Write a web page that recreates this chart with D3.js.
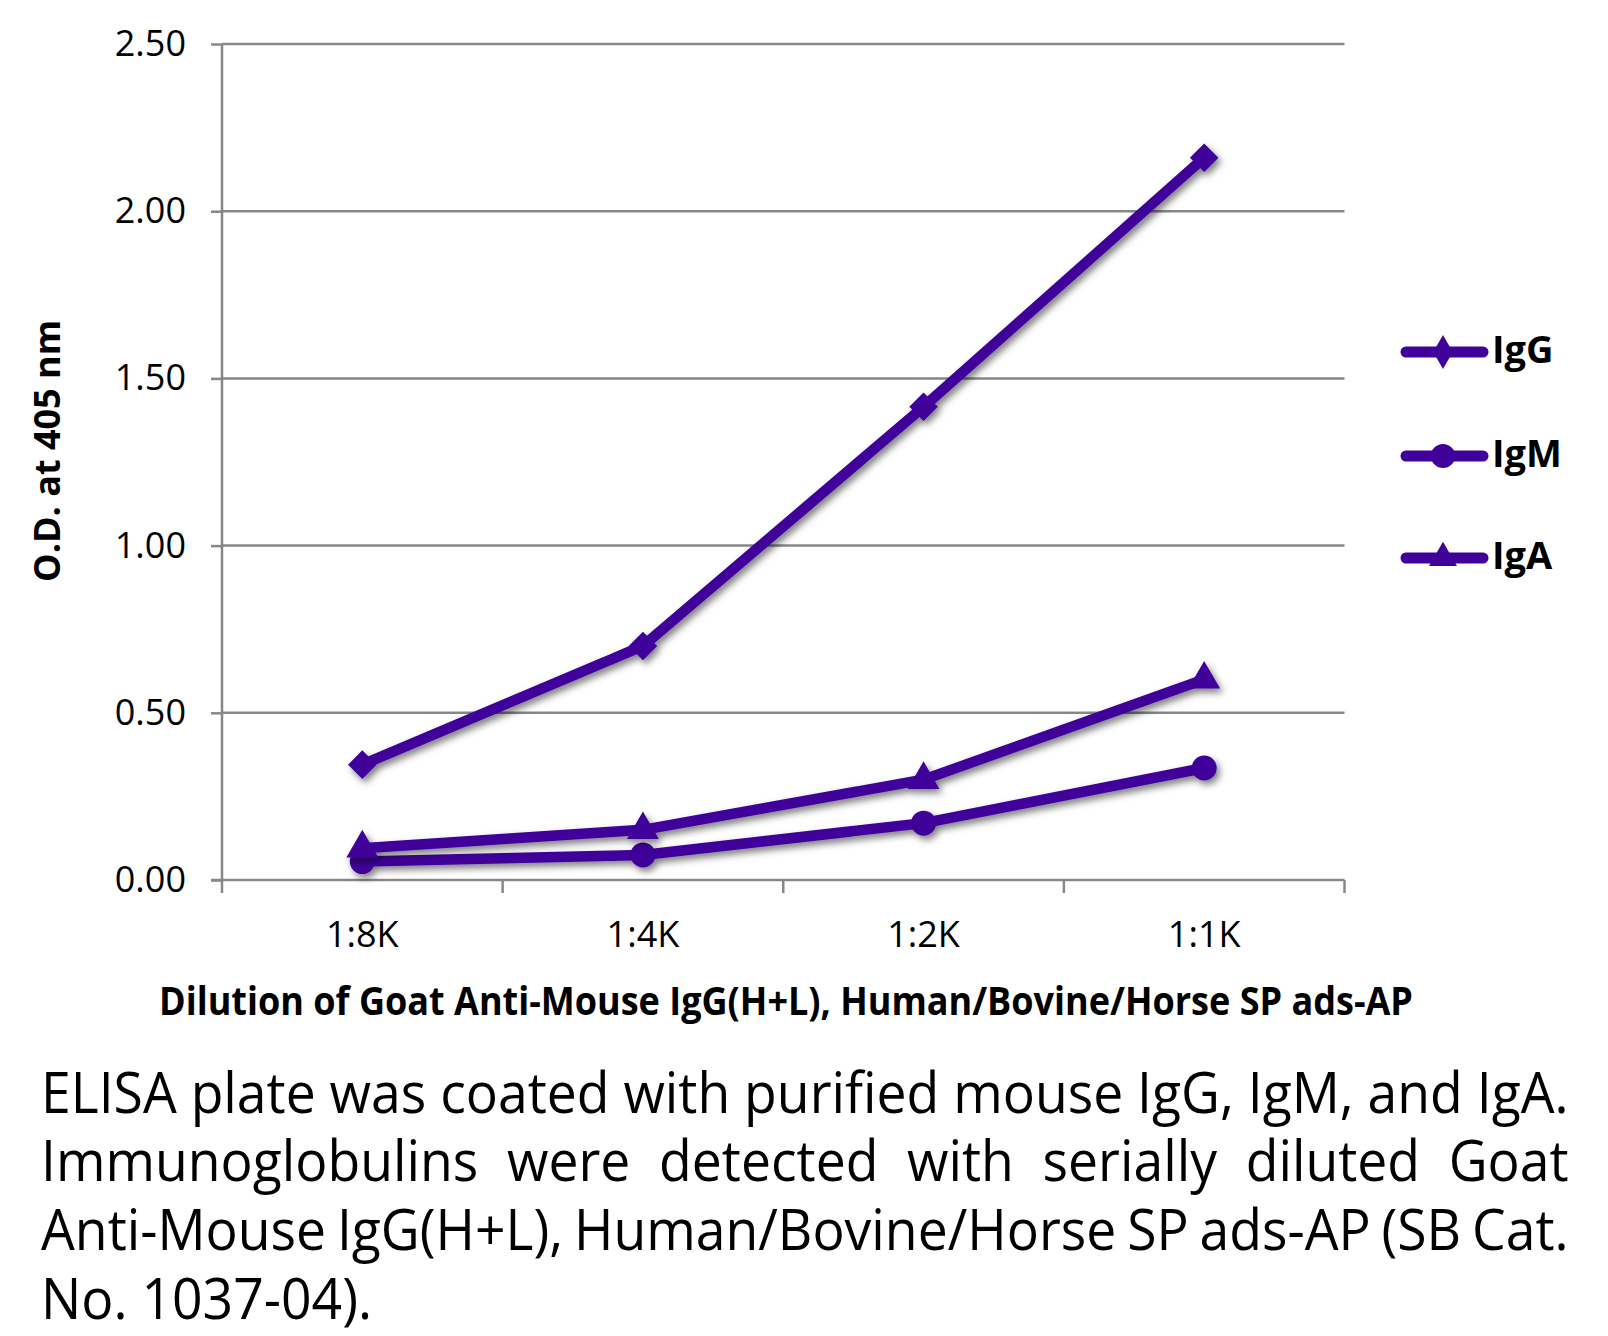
<!DOCTYPE html>
<html>
<head>
<meta charset="utf-8">
<script src="https://cdn.jsdelivr.net/npm/d3@7"></script>
<style>
  html, body { margin: 0; padding: 0; background: #fff; }
  svg { display: block; }
</style>
</head>
<body>
<svg id="chart" width="1608" height="1336"></svg>
<script>
// ---- data ----
const categories = ["1:8K", "1:4K", "1:2K", "1:1K"];
const seriesNames = ["IgG", "IgM", "IgA"];
const igG = [0.345, 0.70, 1.415, 2.16];
const igM = [0.055, 0.075, 0.17, 0.335];
const igA = [0.095, 0.15, 0.30, 0.60];
const yTicks = [0, 0.5, 1.0, 1.5, 2.0, 2.5];
const yTitle = "O.D. at 405 nm";
const xTitle = "Dilution of Goat Anti-Mouse IgG(H+L), Human/Bovine/Horse SP ads-AP";
const captionLines = [
  "ELISA plate was coated with purified mouse IgG, IgM, and IgA.",
  "Immunoglobulins were detected with serially diluted Goat",
  "Anti-Mouse IgG(H+L), Human/Bovine/Horse SP ads-AP (SB Cat.",
  "No. 1037-04)."
];

const series = [
  { name: seriesNames[0], values: igG, symbol: d3.symbolDiamond2 },
  { name: seriesNames[1], values: igM, symbol: d3.symbolCircle },
  { name: seriesNames[2], values: igA, symbol: d3.symbolTriangle }
];

const color = "#40009a";
const gridColor = "#878787";
const font = "'Open Sans', 'Noto Sans', sans-serif";

const svg = d3.select("#chart");
const plot = { left: 222, right: 1344.5, top: 44, bottom: 880 };

const x = d3.scaleBand().domain(categories).range([plot.left, plot.right]).padding(0);
const y = d3.scaleLinear().domain([0, 2.5]).range([plot.bottom, plot.top]);
const cx = d => x(d) + x.bandwidth() / 2;

// drop shadow filter
const defs = svg.append("defs");
const f = defs.append("filter").attr("id", "shadow").attr("x", "-20%").attr("y", "-20%").attr("width", "140%").attr("height", "140%");
f.append("feDropShadow").attr("dx", 3).attr("dy", 4).attr("stdDeviation", 3.5)
  .attr("flood-color", "#000").attr("flood-opacity", 0.5);

// gridlines
svg.append("g").selectAll("line").data(yTicks.filter(t => t > 0)).join("line")
  .attr("x1", plot.left).attr("x2", plot.right)
  .attr("y1", d => y(d)).attr("y2", d => y(d))
  .attr("stroke", gridColor).attr("stroke-width", 2.5);

// y axis
const yAxis = svg.append("g").attr("transform", `translate(${plot.left},0)`)
  .call(d3.axisLeft(y).tickValues(yTicks).tickFormat(d3.format(".2f")).tickSize(11).tickPadding(25));
yAxis.select(".domain").attr("stroke", gridColor).attr("stroke-width", 2.5).attr("d", `M0,${plot.top}V${plot.bottom}`);
yAxis.selectAll(".tick line").attr("stroke", gridColor).attr("stroke-width", 2.5);
yAxis.selectAll(".tick text").attr("font-family", font).attr("font-size", 36).attr("fill", "#000");

// x axis baseline and ticks at band boundaries
svg.append("line").attr("x1", plot.left - 11).attr("x2", plot.right)
  .attr("y1", plot.bottom).attr("y2", plot.bottom)
  .attr("stroke", gridColor).attr("stroke-width", 2.5);
const bounds = categories.map(c => x(c)).concat([plot.right]);
svg.append("g").selectAll("line").data(bounds).join("line")
  .attr("x1", d => d).attr("x2", d => d)
  .attr("y1", plot.bottom).attr("y2", plot.bottom + 13)
  .attr("stroke", gridColor).attr("stroke-width", 2.5);
const xAxis = svg.append("g").attr("transform", `translate(0,${plot.bottom})`)
  .call(d3.axisBottom(x).tickSize(0).tickPadding(41));
xAxis.select(".domain").remove();
xAxis.selectAll(".tick text").attr("font-family", font).attr("font-size", 36).attr("fill", "#000");

// series
const line = d3.line().x((d, i) => cx(categories[i])).y(d => y(d));
series.forEach(s => {
  const g = svg.append("g").attr("filter", "url(#shadow)");
  g.append("path").attr("d", line(s.values)).attr("fill", "none")
    .attr("stroke", color).attr("stroke-width", 10.5).attr("stroke-linejoin", "round");
  const size = s.name === "IgM" ? 490 : (s.name === "IgG" ? 520 : 440);
  g.selectAll("path.m").data(s.values).join("path").attr("class", "m")
    .attr("d", d3.symbol().type(s.symbol).size(size))
    .attr("transform", (d, i) => `translate(${cx(categories[i])},${y(d)})`)
    .attr("fill", color);
});

// legend
const legendY = [352, 456, 558];
series.forEach((s, i) => {
  const g = svg.append("g").attr("transform", `translate(0,${legendY[i]})`);
  g.append("line").attr("x1", 1406).attr("x2", 1483).attr("y1", 0).attr("y2", 0)
    .attr("stroke", color).attr("stroke-width", 11).attr("stroke-linecap", "round");
  const sym = s.name === "IgG" ? d3.symbolDiamond : s.symbol;
  const size = s.name === "IgM" ? 460 : (s.name === "IgG" ? 330 : 340);
  g.append("path").attr("d", d3.symbol().type(sym).size(size)())
    .attr("transform", "translate(1443,0)").attr("fill", color);
  g.append("text").attr("x", 1492).attr("y", 11).text(s.name)
    .attr("font-family", font).attr("font-weight", 700).attr("font-size", 38).attr("fill", "#000");
});

// y title
svg.append("text").attr("transform", "translate(60,451) rotate(-90)")
  .attr("text-anchor", "middle").attr("font-family", font).attr("font-weight", 700)
  .attr("font-size", 35).attr("fill", "#000").attr("textLength", 262).attr("lengthAdjust", "spacingAndGlyphs")
  .text(yTitle);

// x title
svg.append("text").attr("x", 159).attr("y", 1015)
  .attr("font-family", font).attr("font-weight", 700)
  .attr("font-size", 39).attr("fill", "#000").attr("textLength", 1254).attr("lengthAdjust", "spacingAndGlyphs")
  .text(xTitle);

// caption, justified: one text per line inside a horizontally scaled group
const capLeft = 41, capRight = 1569, capWidth = capRight - capLeft;
const capBase = [1113, 1181, 1250, 1319];
const capSize = 57;
function measure(str, ws) {
  const t = svg.append("text").attr("font-family", font).attr("font-size", capSize)
    .style("word-spacing", (ws || 0) + "px").attr("opacity", 0).text(str);
  const w = t.node().getComputedTextLength();
  t.remove();
  return w;
}
const k = capWidth / measure(captionLines[0]);
captionLines.forEach((ln, li) => {
  const g = svg.append("g").attr("transform", `translate(${capLeft},${capBase[li]}) scale(${k},1)`);
  const nWords = ln.split(" ").length;
  let ws = 0;
  if (li < captionLines.length - 1 && nWords > 1) {
    const nat = measure(ln);
    ws = (capWidth / k - nat) / (nWords - 1);
  }
  g.append("text").attr("x", 0).attr("y", 0)
    .attr("font-family", font).attr("font-size", capSize).attr("fill", "#000")
    .style("word-spacing", ws + "px")
    .text(ln);
});
</script>
</body>
</html>
